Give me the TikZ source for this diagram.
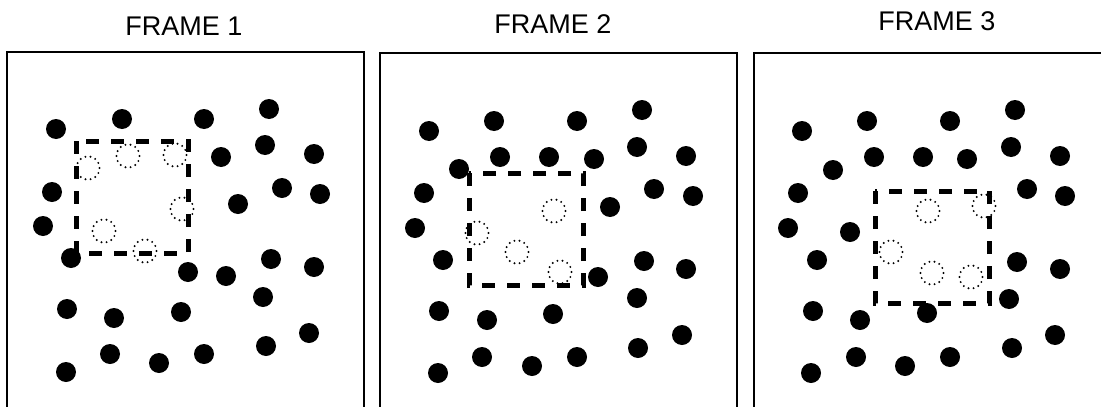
\documentclass[tikz,border=0pt]{standalone}
\usepackage{fontspec}
\setmainfont{Liberation Sans}
\tikzset{
  line cap=round,
  line join=round,
  framebox/.style={draw, line width=2.8pt},
  dot/.style={fill=black},
  speck/.style={fill=black},
  window/.style={draw, line width=5pt, dash pattern=on 13pt off 12pt},
  title/.style={font=\fontsize{27}{30}\selectfont, inner sep=0pt}
}
% 점선 원 (작은 점 14개)
\newcommand{\ghostdot}[2]{%
  \foreach \a in {0,25.7,...,340}
    \path[speck] (#1,#2) ++(\a:11.5) circle[radius=1.1];}
\begin{document}
\begin{tikzpicture}[x=1pt, y=-1pt]
    \useasboundingbox (0,0) rectangle (1101,407);
    \clip (0,0) rectangle (1101,407);

    % 제목
    \node[title] (t1) at (184,26) {FRAME 1};
    \node[title] (t2) at (553,24) {FRAME 2};
    \node[title] (t3) at (937,21) {FRAME 3};

    % 프레임 외곽
    \draw[framebox] (7,52) rectangle (364,415);
    \draw[framebox] (380,53) rectangle (737,415);
    \draw[framebox] (754,53) rectangle (1115,415);

    % 프레임 1
    \foreach \x/\y in {56/129, 122/119, 204/119, 269/109, 221/157, 265/145, 314/154,
                       52/192, 282/188, 320/194, 238/204, 43/226, 71/258, 188/272,
                       226/276, 271/259, 314/267, 263/297, 67/309, 114/318, 181/312,
                       309/333, 110/354, 159/363, 204/354, 266/346, 66/372}
      \path[dot] (\x,\y) circle[radius=10];
    \foreach \x/\y in {88/168, 128/156, 175/155, 182/209, 104/231, 145/251}
      \ghostdot{\x}{\y};
    \draw[window] (76,141) rectangle (188,253);

    % 프레임 2
    \foreach \x/\y in {429/131, 494/121, 577/121, 642/110, 500/157, 549/157, 594/159,
                       637/147, 686/156, 459/169, 424/193, 654/189, 693/196, 610/207,
                       415/228, 443/260, 598/277, 644/261, 686/269, 637/298, 439/311,
                       487/320, 553/314, 682/335, 482/357, 532/366, 577/357, 638/348,
                       438/373}
      \path[dot] (\x,\y) circle[radius=10];
    \foreach \x/\y in {554/211, 477/233, 517/252, 560/272}
      \ghostdot{\x}{\y};
    \draw[window] (469,173) rectangle (583,285);

    % 프레임 3
    \foreach \x/\y in {802/131, 867/121, 950/121, 1015/110, 874/157, 923/157, 967/159,
                       1011/147, 1060/156, 833/170, 798/193, 1027/189, 1065/196,
                       788/228, 850/232, 817/260, 1017/262, 1060/269, 1009/299,
                       813/311, 860/320, 927/313, 1055/335, 856/357, 905/366,
                       950/357, 1012/348, 811/373}
      \path[dot] (\x,\y) circle[radius=10];
    \foreach \x/\y in {928/211, 984/206, 891/252, 932/273, 971/277}
      \ghostdot{\x}{\y};
    \draw[window] (875,191) rectangle (989,303);
\end{tikzpicture}
\end{document}
